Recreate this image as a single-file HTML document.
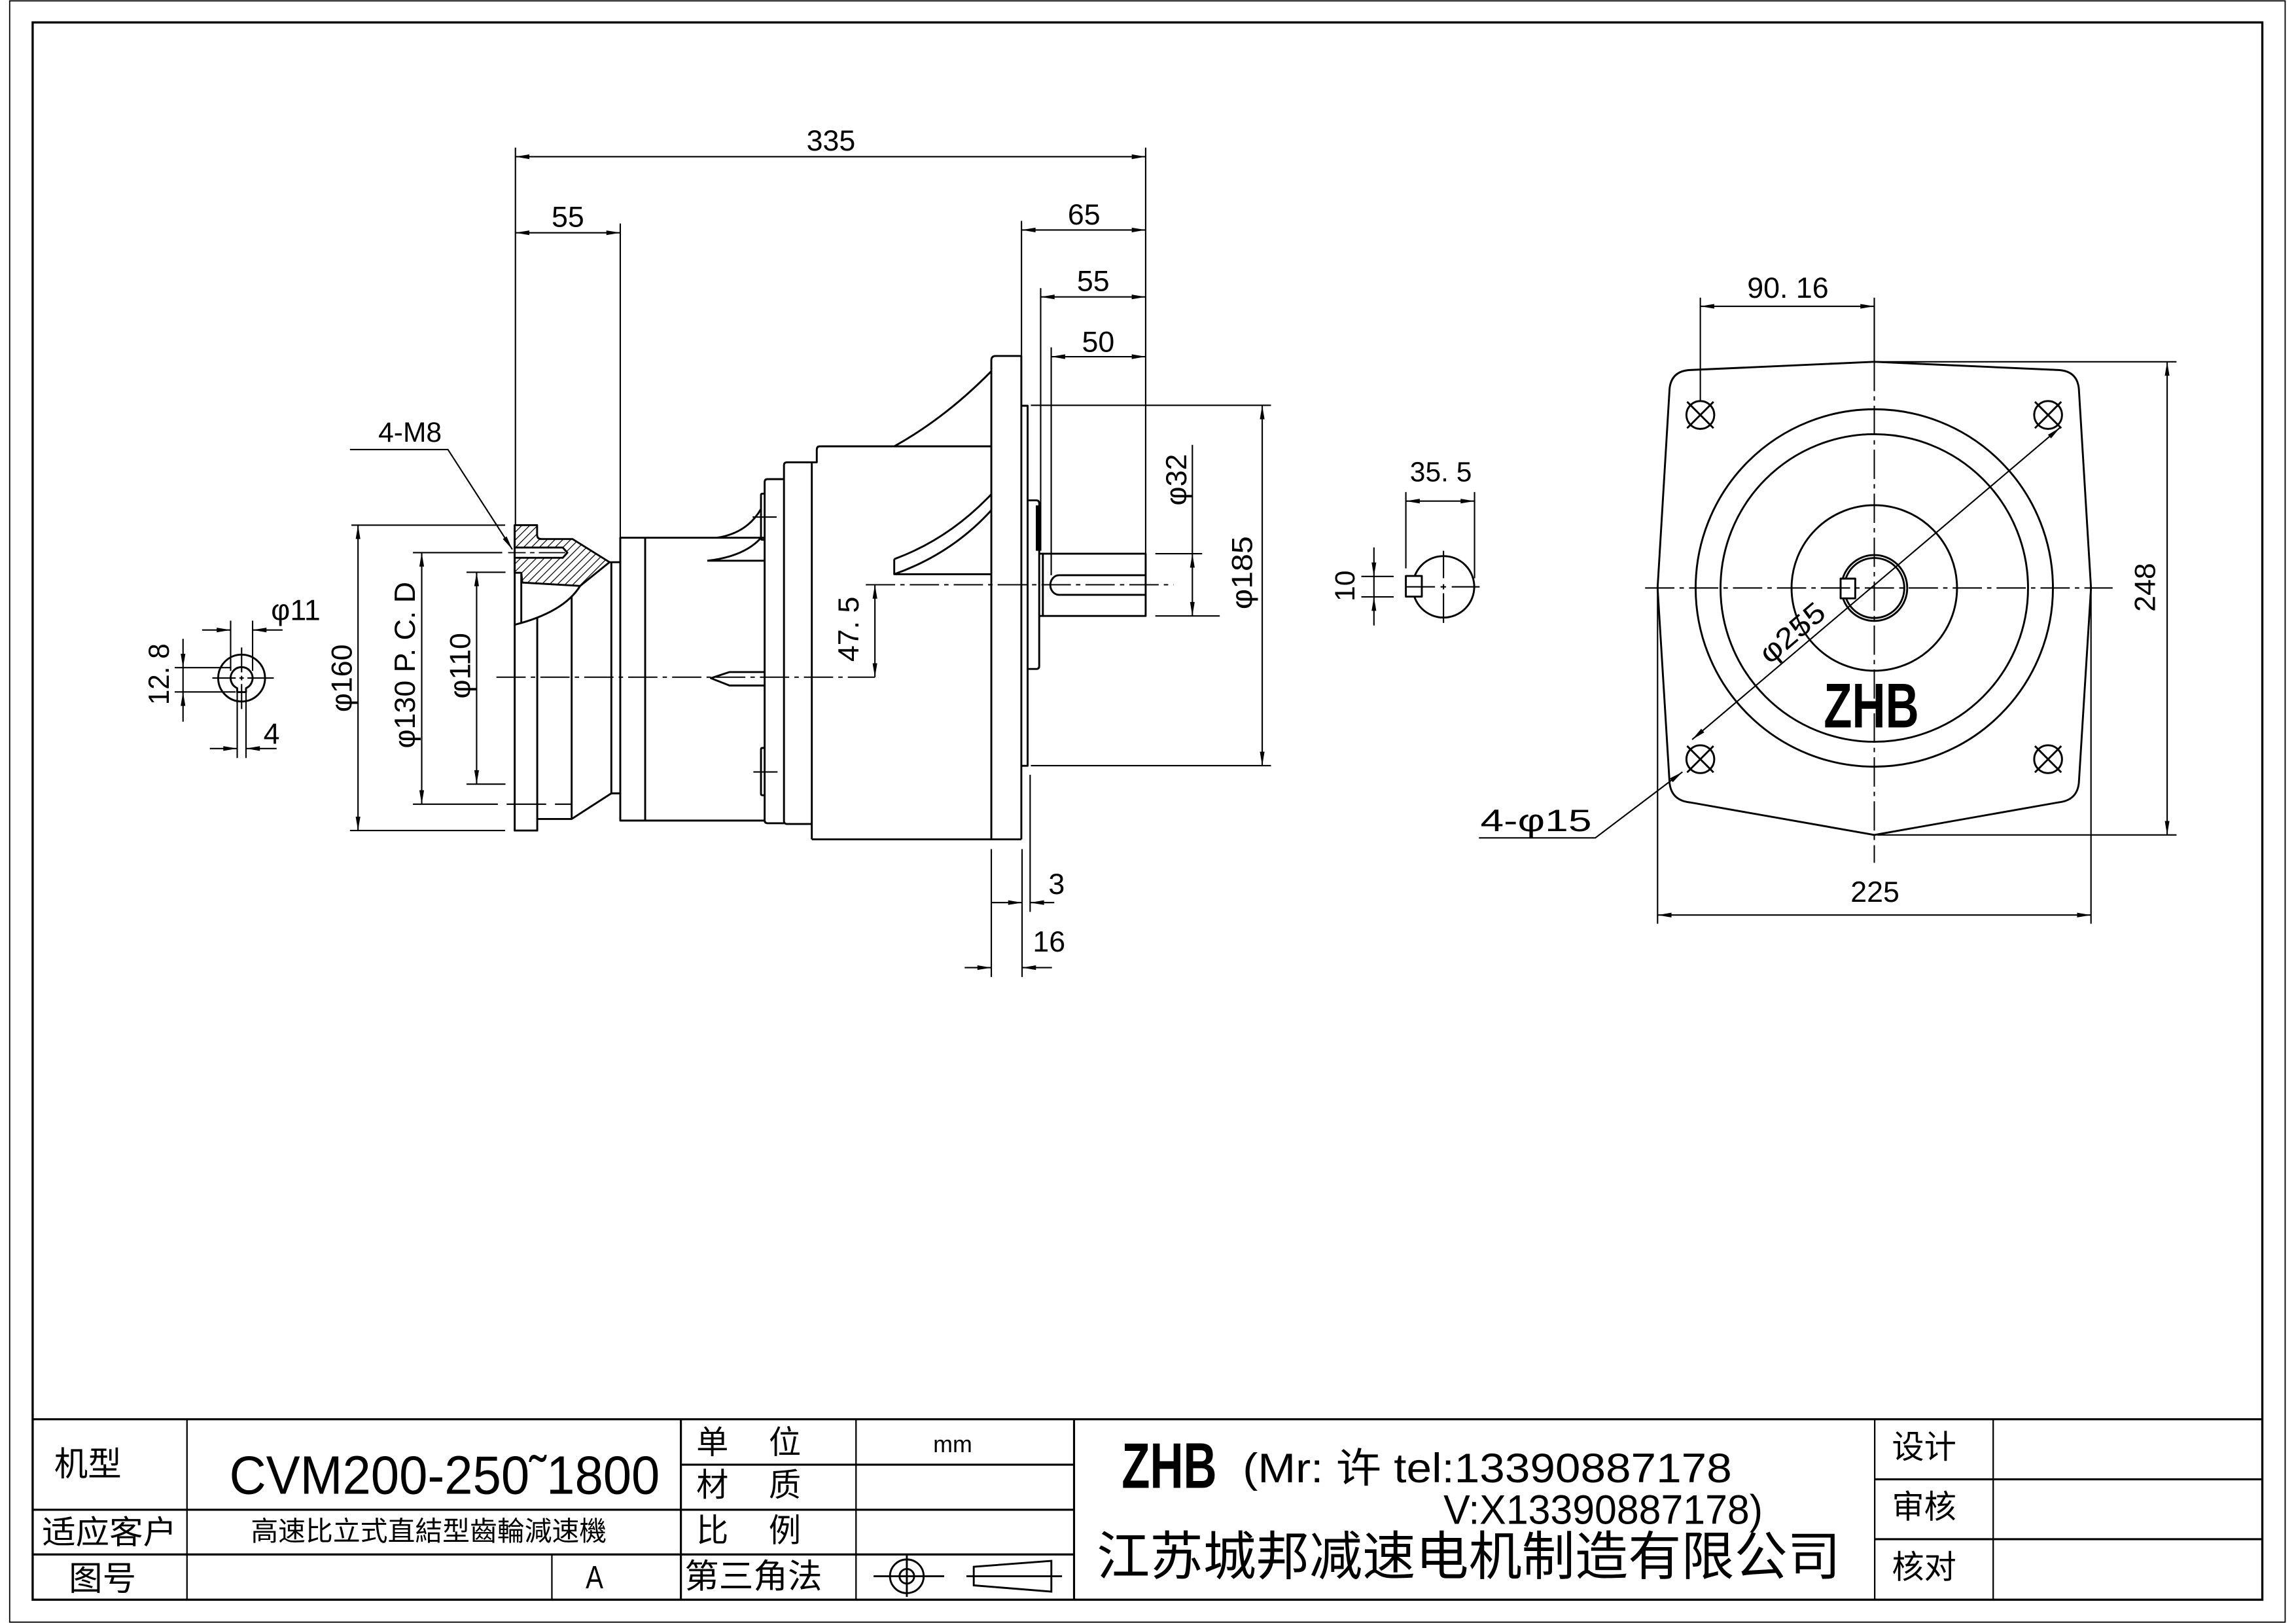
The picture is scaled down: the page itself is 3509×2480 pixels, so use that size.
<!DOCTYPE html>
<html><head><meta charset="utf-8">
<style>
html,body{margin:0;padding:0;background:#fff;}
svg{display:block;}
text{font-family:"Liberation Sans","Noto Sans CJK SC",sans-serif;fill:#000;dominant-baseline:central;text-anchor:middle;}
.o{stroke:#000;stroke-width:1.3;fill:none;stroke-linejoin:round;}
.d{stroke:#000;stroke-width:0.95;fill:none;}
.c{stroke:#000;stroke-width:0.9;fill:none;stroke-dasharray:20 3.5 3 3.5;}
.a{fill:#000;stroke:none;}
.t{font-size:20px;}
.k{font-size:22px;}
.f{stroke:#000;fill:none;}
</style></head><body>
<svg width="3509" height="2480" viewBox="0 0 1568 1108" preserveAspectRatio="none" xmlns="http://www.w3.org/2000/svg">
<defs>
<pattern id="h" width="3.8" height="3.8" patternUnits="userSpaceOnUse" patternTransform="rotate(45)">
<line x1="0" y1="0" x2="0" y2="3.8" stroke="#000" stroke-width="1.1"/>
</pattern>
</defs>
<rect x="0" y="0" width="1568" height="1108" fill="#fff"/>

<!-- Frames -->
<rect class="f" x="6.6" y="0.6" width="1554" height="1106.8" stroke-width="0.8"/>
<rect class="f" x="22.3" y="15.3" width="1522.7" height="1076.8" stroke-width="1.5"/>

<!-- Title block -->
<g class="f" stroke-width="1.4">
<path d="M22.3,968.9 H1545"/>
<path d="M22.3,1030.7 H733.5 M22.3,1061.2 H733.5 M465,999.9 H733.5"/>
<path d="M1280.3,1009.9 H1545 M1280.3,1050.8 H1545"/>
<path d="M465,968.9 V1092 M733.5,968.9 V1092"/>
</g>
<g class="f" stroke-width="1.0">
<path d="M127.7,968.9 V1092 M584.6,968.9 V1092 M376.9,1061.2 V1092 M1280.3,968.9 V1092 M1361.2,968.9 V1092"/>
</g>
<text x="60" y="999.5" style="font-size:23px">机型</text>
<text x="303.6" y="1007" style="font-size:37px" textLength="294" lengthAdjust="spacingAndGlyphs">CVM200-250˜1800</text>
<text x="74.7" y="1046.3" style="font-size:22px" textLength="92" lengthAdjust="spacingAndGlyphs">适应客户</text>
<text x="292.8" y="1045.5" style="font-size:18.5px" textLength="243" lengthAdjust="spacingAndGlyphs">高速比立式直結型齒輪減速機</text>
<text x="70" y="1077.7" style="font-size:23px">图号</text>
<text x="406" y="1077" style="font-size:22px" textLength="12" lengthAdjust="spacingAndGlyphs">A</text>
<text x="486.5" y="985" class="k">单</text><text x="536" y="985" class="k">位</text>
<text x="486.5" y="1014" class="k">材</text><text x="536" y="1014" class="k">质</text>
<text x="486.5" y="1045" class="k">比</text><text x="536" y="1045" class="k">例</text>
<text x="514.5" y="1076" style="font-size:23px" textLength="94" lengthAdjust="spacingAndGlyphs">第三角法</text>
<text x="650.6" y="986" style="font-size:16px">mm</text>
<g class="f" stroke-width="1.3">
<circle cx="619.3" cy="1076.1" r="11.5"/>
<circle cx="619.3" cy="1076.1" r="5"/>
<path d="M596.6,1076.1 H644.8 M619.3,1061.9 V1090.2"/>
<path d="M665,1069.6 L718,1065.6 L718,1086.6 L665,1082.3 Z"/>
<path d="M660,1076.1 H725.3"/>
</g>
<text x="798.5" y="1000.5" style="font-size:44px;font-weight:bold" textLength="65" lengthAdjust="spacingAndGlyphs">ZHB</text>
<text x="1015.7" y="1002.5" style="font-size:28px" textLength="334" lengthAdjust="spacingAndGlyphs">(Mr: 许 tel:13390887178</text>
<text x="1094.8" y="1031" style="font-size:28px" textLength="218" lengthAdjust="spacingAndGlyphs">V:X13390887178)</text>
<text x="1003" y="1063.2" style="font-size:36px" textLength="508" lengthAdjust="spacingAndGlyphs">江苏城邦减速电机制造有限公司</text>
<text x="1314" y="988" class="k">设计</text>
<text x="1314" y="1029" class="k">审核</text>
<text x="1314" y="1070" class="k">核对</text>

<!-- ===== Main view ===== -->
<path class="o" style="fill:url(#h)" d="M351.5,358.5 L366.8,358.5 L366.8,365 Q366.8,368 369.7,368 L391,368 L416.3,383.8 L396.2,400 L356.7,397.7 L356,391 L351.5,391 Z"/>
<path class="o" style="fill:#fff" d="M351.5,373.8 L384.3,373.8 L387.5,377.3 L384.3,380.8 L351.5,380.8"/>
<path class="o" d="M351.5,358.5 V567 H366.9 V559.1 H390.4 L417.5,541.6 V383.8"/>
<path class="o" d="M396.2,400 Q385,418 351.5,426.5"/>
<path class="o" d="M356,391 V425 M366.9,421.7 V559.1 M390.4,407.3 V559.1"/>
<path class="o" d="M416.3,383.8 H423.6 M417.5,541.6 H423.6"/>
<path class="o" d="M522.2,367.1 H423.6 V560.2 H522.2 M440.6,367.1 V560.2"/>
<path class="o" d="M489.7,367.1 Q510,364 519.5,347.8 M483,382.8 Q508,380 519.5,367.4 M483,382.8 H522.2"/>
<path class="o" d="M522.2,458.8 H498.2 L485.5,463 L498.2,468 H522.2"/>
<path class="o" d="M535.4,327.1 H524.2 Q522.2,327.1 522.2,329.1 V560 Q522.2,562 524.2,562 H535.4"/>
<path class="o" d="M522.2,337 H520.7 Q519.7,337 519.7,338 V367.5 Q519.7,368.5 520.7,368.5 H522.2"/>
<path class="o" d="M522.2,510.6 H520.7 Q519.7,510.6 519.7,511.6 V541.9 Q519.7,542.9 520.7,542.9 H522.2"/>
<path class="d" d="M514,353 H530.4 M514.5,527 H531"/>
<path class="o" d="M554.4,315.6 H537.4 Q535.4,315.6 535.4,317.6 V560.5 Q535.4,562.5 537.4,562.5 H554.4"/>
<path class="o" d="M554.4,573 V315.6 H557.8 V307 Q557.8,304.7 560,304.7 H677 M554.4,573 H697.5"/>
<path class="o" d="M677,573 V246 Q677,243 680,243 H697.5 V573"/>
<path class="o" d="M610.7,304.7 Q646,285 677,253.4"/>
<path class="o" d="M610.7,381.7 Q648,368 677,337.4 M610.7,392 Q650,378 677,348.3 M610.7,381.7 V392 H677"/>
<path class="o" d="M697.5,277 H701.8 V522.8 H697.5"/>
<path class="o" d="M701.8,341.6 H707.7 Q709.7,341.6 709.7,343.6 V454.7 Q709.7,456.7 707.7,456.7 H701.8"/>
<path d="M708.3,345 V376" stroke="#000" stroke-width="1.8"/>
<path class="o" d="M709.7,378 H782.4 V420.5 H709.7 M712.2,378 V420.5"/>
<path class="o" d="M782.4,392.7 H723.3 A6,6.7 0 0 0 723.3,406.1 H782.4"/>

<path class="c" d="M339,462.3 H597.5"/>
<path class="c" d="M591.3,399.2 H801.5"/>

<!-- top dimensions -->
<g class="d">
<path d="M352,100.8 V358.5 M782.4,100.8 V378 M423.6,152.6 V367.1 M697.6,150.8 V243 M710.7,196.7 V376 M717.9,237.1 V392.7"/>
<path d="M352,107 H782.4 M352,158.9 H423.6 M697.7,157 H782.4 M710.7,202.7 H782.4 M717.9,243.5 H782.4"/>
</g>
<g class="a">
<polygon points="352,107 361.5,105.4 361.5,108.6"/><polygon points="782.4,107 772.9,105.4 772.9,108.6"/>
<polygon points="352,158.9 361.5,157.3 361.5,160.5"/><polygon points="423.6,158.9 414.1,157.3 414.1,160.5"/>
<polygon points="697.7,157 707.2,155.4 707.2,158.6"/><polygon points="782.4,157 772.9,155.4 772.9,158.6"/>
<polygon points="710.7,202.7 720.2,201.1 720.2,204.3"/><polygon points="782.4,202.7 772.9,201.1 772.9,204.3"/>
<polygon points="717.9,243.5 727.4,241.9 727.4,245.1"/><polygon points="782.4,243.5 772.9,241.9 772.9,245.1"/>
</g>
<text class="t" x="567.5" y="96">335</text>
<text class="t" x="387.8" y="148">55</text>
<text class="t" x="740.3" y="146.5">65</text>
<text class="t" x="746.6" y="192">55</text>
<text class="t" x="750" y="233.5">50</text>

<!-- φ185 / φ32 -->
<g class="d">
<path d="M704,276.7 H868 M704,522.7 H868 M862,276.7 V522.7"/>
<path d="M789,378 H821 M789,420.5 H833 M814.3,303.7 V420.5"/>
</g>
<g class="a">
<polygon points="862,276.7 860.4,286.2 863.6,286.2"/><polygon points="862,522.7 860.4,513.2 863.6,513.2"/>
<polygon points="814.3,378 812.7,387.5 815.9,387.5"/><polygon points="814.3,420.5 812.7,411 815.9,411"/>
</g>
<text class="t" x="848.4" y="391" transform="rotate(-90 848.4 391)" textLength="50" lengthAdjust="spacingAndGlyphs">φ185</text>
<text class="t" x="803.5" y="327.5" transform="rotate(-90 803.5 327.5)">φ32</text>

<!-- 47.5 -->
<path class="d" d="M597.5,399.2 V462.3"/>
<g class="a"><polygon points="597.5,399.2 595.9,408.7 599.1,408.7"/><polygon points="597.5,462.3 595.9,452.8 599.1,452.8"/></g>
<text class="t" x="579.5" y="429.5" transform="rotate(-90 579.5 429.5)">47. 5</text>

<!-- 3 / 16 -->
<g class="d">
<path d="M677,579.7 V667 M698,579.7 V667 M703.5,528.9 V622.5"/>
<path d="M677,616.2 H698 M703.5,616.2 H720"/>
<path d="M658.8,660.6 H677 M698,660.6 H718.4"/>
</g>
<g class="a">
<polygon points="698,616.2 688.5,614.6 688.5,617.8"/><polygon points="703.5,616.2 713,614.6 713,617.8"/>
<polygon points="677,660.6 667.5,659 667.5,662.2"/><polygon points="698,660.6 707.5,659 707.5,662.2"/>
</g>
<text class="t" x="721.6" y="603.5">3</text>
<text class="t" x="716.4" y="643">16</text>

<!-- φ160 / φ130 / φ110 -->
<g class="d">
<path d="M240,358.5 H345 M239,567 H345 M244.5,358.5 V567"/>
<path d="M282,377.3 H343 M282,549 H340 M346,549 H373 M379,549 H390.4 M288,377.3 V549"/>
<path d="M318.6,390.7 H345.2 M318.6,535.3 H345.2 M325.5,390.7 V535.3"/>
<path d="M347,377.3 H359 M362,377.3 H365 M368,377.3 H386" stroke-width="0.8"/>
</g>
<g class="a">
<polygon points="244.5,358.5 242.9,368 246.1,368"/><polygon points="244.5,567 242.9,557.5 246.1,557.5"/>
<polygon points="288,377.3 286.4,386.8 289.6,386.8"/><polygon points="288,549 286.4,539.5 289.6,539.5"/>
<polygon points="325.5,390.7 323.9,400.2 327.1,400.2"/><polygon points="325.5,535.3 323.9,525.8 327.1,525.8"/>
</g>
<text class="t" x="233.5" y="463" transform="rotate(-90 233.5 463)">φ160</text>
<text class="t" x="276.5" y="454" transform="rotate(-90 276.5 454)">φ130 P. C. D</text>
<text class="t" x="314.3" y="454.5" transform="rotate(-90 314.3 454.5)">φ110</text>

<!-- 4-M8 -->
<path class="d" d="M239,306.9 H305.9 L349.9,375.1"/>
<polygon class="a" points="349.9,375.1 346.0,366.2 343.4,368.0"/>
<text x="280" y="295.5" style="font-size:19px">4-M8</text>

<!-- small bore detail -->
<g class="o">
<circle cx="165" cy="462.9" r="16"/>
<path d="M162,469.8 A7.5,7.5 0 1 1 168,469.8 L168,472.5 L162,472.5 Z"/>
</g>
<g class="d" stroke-width="0.8">
<path d="M145,462.9 H161 M163.5,462.9 H166.5 M169,462.9 H187"/>
<path d="M165,442 V459 M165,461.4 V464.4 M165,467 V484"/>
</g>
<g class="d">
<path d="M157.5,423.7 V458 M172.5,423.7 V458"/>
<path d="M138,430.1 H157.5 M172.5,430.1 H193"/>
<path d="M119.3,455.8 H158 M119.3,472.4 H161"/>
<path d="M125,436.1 V492.7"/>
<path d="M162,473 V517.5 M168,473 V517.5"/>
<path d="M143.3,511 H162 M168,511 H188.9"/>
</g>
<g class="a">
<polygon points="157.5,430.1 148,428.5 148,431.7"/><polygon points="172.5,430.1 182,428.5 182,431.7"/>
<polygon points="125,455.8 123.4,446.3 126.6,446.3"/><polygon points="125,472.4 123.4,481.9 126.6,481.9"/>
<polygon points="162,511 152.5,509.4 152.5,512.6"/><polygon points="168,511 177.5,509.4 177.5,512.6"/>
</g>
<text class="t" x="202" y="416.6">φ11</text>
<text class="t" x="108.5" y="460.3" transform="rotate(-90 108.5 460.3)" textLength="42" lengthAdjust="spacingAndGlyphs">12. 8</text>
<text class="t" x="185.5" y="501">4</text>

<!-- ===== Key detail ===== -->
<circle class="o" cx="985.8" cy="400.6" r="21"/>
<rect class="o" x="960.1" y="393.2" width="10.9" height="14.1" style="fill:#fff"/>
<g class="d" stroke-width="0.9">
<path d="M960.1,400.6 H980 M983.8,400.6 H987.5 M991.4,400.6 H1010.5"/>
<path d="M985.8,376 V394.7 M985.8,398.8 V402.4 M985.8,405 V425.3"/>
</g>
<g class="d">
<path d="M960.1,335.9 V388 M1007,335.9 V394.8 M960.1,342.1 H1007"/>
<path d="M929.7,393.5 H951.8 M929.7,407.5 H951.8 M938.3,373.7 V427"/>
</g>
<g class="a">
<polygon points="960.1,342.1 969.6,340.5 969.6,343.7"/><polygon points="1007,342.1 997.5,340.5 997.5,343.7"/>
<polygon points="938.3,393.5 936.7,384 939.9,384"/><polygon points="938.3,407.5 936.7,417 939.9,417"/>
</g>
<text x="984" y="322.5" style="font-size:19px">35. 5</text>
<text x="919" y="400" style="font-size:19px" transform="rotate(-90 919 400)">10</text>

<!-- ===== Right (end) view ===== -->
<path class="o" d="M1154.3,252.6 L1280,247 L1405.6,252.6 Q1418.5,253.2 1419.7,265.3 L1428,401.4 L1419.7,534.5 Q1418.5,546.5 1405.6,547.8 L1280,570 L1154.3,547.8 Q1141.5,546.5 1140.2,534.5 L1132,401.4 L1140.2,265.3 Q1141.5,253.2 1154.3,252.6 Z"/>
<g class="o">
<circle cx="1280" cy="401.4" r="122"/>
<circle cx="1280" cy="401.4" r="105"/>
<circle cx="1280" cy="401.4" r="56.5"/>
<circle cx="1280" cy="401.4" r="22.5"/>
<circle cx="1280" cy="401.4" r="20.5"/>
</g>
<rect class="o" x="1257" y="395" width="10" height="13.5" style="fill:#fff"/>
<g class="o">
<circle cx="1161.2" cy="283.3" r="9.5"/><path d="M1152.2,274.3 L1170.2,292.3 M1170.2,274.3 L1152.2,292.3"/>
<circle cx="1398.7" cy="283.3" r="9.5"/><path d="M1389.7,274.3 L1407.7,292.3 M1407.7,274.3 L1389.7,292.3"/>
<circle cx="1161.2" cy="518.3" r="9.5"/><path d="M1152.2,509.3 L1170.2,527.3 M1170.2,509.3 L1152.2,527.3"/>
<circle cx="1398.7" cy="518.3" r="9.5"/><path d="M1389.7,509.3 L1407.7,527.3 M1407.7,509.3 L1389.7,527.3"/>
</g>
<path class="c" d="M1123.5,401.4 H1442.8"/>
<path class="c" d="M1280,247 V589"/>
<path class="d" d="M1280,203.2 V247"/>
<!-- 90.16 -->
<path class="d" d="M1161.2,203.2 V274 M1161.2,209.1 H1280"/>
<g class="a"><polygon points="1161.2,209.1 1170.7,207.5 1170.7,210.7"/><polygon points="1280,209.1 1270.5,207.5 1270.5,210.7"/></g>
<text class="t" x="1221" y="196.5">90. 16</text>
<!-- 248 -->
<path class="d" d="M1282,247 H1486.4 M1282,570 H1486.4 M1480,247 V570"/>
<g class="a"><polygon points="1480,247 1478.4,256.5 1481.6,256.5"/><polygon points="1480,570 1478.4,560.5 1481.6,560.5"/></g>
<text class="t" x="1465" y="401" transform="rotate(-90 1465 401)">248</text>
<!-- 225 -->
<path class="d" d="M1132,401.4 V630.6 M1428,401.4 V630.6 M1132,624.7 H1428"/>
<g class="a"><polygon points="1132,624.7 1141.5,623.1 1141.5,626.3"/><polygon points="1428,624.7 1418.5,623.1 1418.5,626.3"/></g>
<text class="t" x="1280.5" y="609">225</text>
<!-- φ255 -->
<path class="d" d="M1155.6,504.9 L1406.9,291.9"/>
<g class="a">
<polygon points="1406.9,291.9 1400.7,299.3 1398.6,296.8"/>
<polygon points="1155.6,504.9 1163.9,500.0 1161.8,497.5"/>
</g>
<text class="t" x="1224" y="432" transform="rotate(-40.3 1224 432)" textLength="52" lengthAdjust="spacingAndGlyphs">φ255</text>
<!-- 4-φ15 -->
<path class="d" d="M1010,572 H1089.5 L1149,527"/>
<polygon class="a" points="1149,527 1142.4,534.0 1140.4,531.4"/>
<text x="1049" y="560" style="font-size:21px" textLength="76" lengthAdjust="spacingAndGlyphs">4-φ15</text>
<!-- ZHB -->
<text x="1278" y="482" style="font-size:43px;font-weight:bold" textLength="65" lengthAdjust="spacingAndGlyphs">ZHB</text>
</svg>
</body></html>
